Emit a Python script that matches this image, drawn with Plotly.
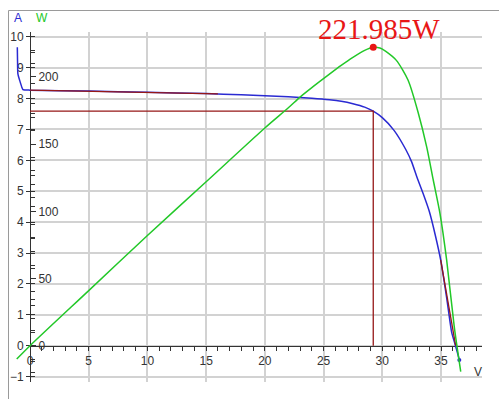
import plotly.graph_objects as go

# ---------------- data ----------------
iv_v = [-1.08, -1.06, -1.03, -0.68, -0.6, 0, 5, 10, 15, 18, 20, 22, 24, 25.5, 26.5,
        27.5, 28.5, 29.23, 30, 31, 32, 32.5, 33, 33.5, 34, 34.5, 35, 35.5, 35.9,
        36.2, 36.4, 36.56]
iv_a = [9.66, 9.2, 8.8, 8.35, 8.29, 8.27, 8.24, 8.2, 8.16, 8.12, 8.09, 8.06, 8.01,
        7.96, 7.91, 7.83, 7.72, 7.59, 7.38, 6.97, 6.35, 5.95, 5.4, 4.9, 4.35, 3.6,
        2.72, 1.5, 0.45, 0.04, -0.23, -0.46]

pv_v = [-1.13, 0, 5, 10, 15, 20, 22, 23, 24, 25.5, 26.5, 27.5, 28.5, 29.23, 29.8,
        30.3, 31.2, 32.2, 33.07, 33.78, 34.34, 34.91, 35.48, 36.13, 36.68]
pv_w = [-9.9, 0, 41, 82, 122, 162, 177, 185, 192, 202, 208.5, 214.5, 219.7, 221.985,
        221.5, 219, 212.3, 197.5, 173, 148, 123.3, 98.5, 63.8, 14, -19.3]

# tangent lines at Isc and Voc
isc_tan_v = [0, 16]
isc_tan_a = [8.27, 8.15]
voc_tan_v = [34.97, 36.25]
voc_tan_a = [2.78, 0.0]

mpp_v = 29.23
mpp_a = 7.59
mpp_w = 221.985
mpp_label = "221.985W"

x_ticks_major = 5
a_ticks_major = 1
w_ticks_major = 50

# ---------------- geometry / calibration ----------------
W, H = 499, 399
PX_X0 = 30.0      # pixel x of V = 0
PX_PER_V = 11.743
PY_Y0 = 345.7     # pixel y of A = 0 / W = 0
PX_PER_A = 30.9
PX_PER_W = 1.344


def vrange(p0, p1):
    return [(p0 - PX_X0) / PX_PER_V, (p1 - PX_X0) / PX_PER_V]


def arange_(pb, pt):
    return [(PY_Y0 - pb) / PX_PER_A, (PY_Y0 - pt) / PX_PER_A]


def wrange(pb, pt):
    return [(PY_Y0 - pb) / PX_PER_W, (PY_Y0 - pt) / PX_PER_W]


GL, GR, GT, GB = 30, 482, 32, 382   # grid region in pixels

FONT = "Liberation Sans, Arial, sans-serif"
AX = "#333333"
GRID = "#d2d2d2"
BLUE = "#2a2ad2"
GREEN = "#22c828"
MAROON = "#961818"
RED = "#e81616"

fig = go.Figure()

# dummy traces to create the display (grid/tick) subplot
for ya in ["y", "y4", "y5"]:
    fig.add_trace(go.Scatter(x=[None], y=[None], xaxis="x", yaxis=ya,
                             showlegend=False, hoverinfo="skip"))

# data traces
fig.add_trace(go.Scatter(x=iv_v, y=iv_a, xaxis="x2", yaxis="y2", mode="lines",
                         line=dict(color=BLUE, width=1.5, shape="spline",
                                   smoothing=0.5),
                         showlegend=False))
fig.add_trace(go.Scatter(x=[iv_v[-1]], y=[iv_a[-1]], xaxis="x2", yaxis="y2",
                         mode="markers", marker=dict(color=BLUE, size=4),
                         showlegend=False))
fig.add_trace(go.Scatter(x=isc_tan_v + [None] + voc_tan_v,
                         y=isc_tan_a + [None] + voc_tan_a,
                         xaxis="x2", yaxis="y2", mode="lines",
                         line=dict(color=MAROON, width=1.3), showlegend=False))
fig.add_trace(go.Scatter(x=[0, mpp_v, mpp_v], y=[mpp_a, mpp_a, 0],
                         xaxis="x2", yaxis="y2", mode="lines",
                         line=dict(color=MAROON, width=1.3), showlegend=False))
fig.add_trace(go.Scatter(x=pv_v, y=pv_w, xaxis="x2", yaxis="y3", mode="lines",
                         line=dict(color=GREEN, width=1.5, shape="spline",
                                   smoothing=0.7),
                         showlegend=False))
fig.add_trace(go.Scatter(x=[mpp_v], y=[mpp_w], xaxis="x2", yaxis="y3",
                         mode="markers", marker=dict(color=RED, size=7),
                         showlegend=False))

tickfont = dict(family=FONT, size=12, color=AX)

fig.update_layout(
    width=W, height=H,
    margin=dict(l=0, r=0, t=0, b=0),
    paper_bgcolor="white", plot_bgcolor="rgba(0,0,0,0)",
    showlegend=False,
    # display axes with grid
    xaxis=dict(domain=[GL / W, GR / W], range=vrange(GL, GR), anchor="free",
               position=1 - PY_Y0 / H, showgrid=True, gridcolor=GRID, gridwidth=1.5,
               dtick=x_ticks_major, tick0=0, ticks="outside", ticklen=4, tickwidth=1,
               tickcolor=AX, minor=dict(dtick=1, ticks="outside", ticklen=4,
                                        tickcolor=AX, showgrid=False),
               showline=True, linecolor=AX, linewidth=1, zeroline=False,
               tickfont=tickfont, automargin=False, fixedrange=True),
    yaxis=dict(domain=[1 - GB / H, 1 - GT / H], range=arange_(GB, GT), anchor="free",
               position=GL / W, side="left", showgrid=True, gridcolor=GRID,
               gridwidth=1.5, dtick=a_ticks_major, tick0=0, ticks="outside",
               ticklen=4, tickwidth=1, tickcolor=AX, showline=True, linecolor=AX,
               linewidth=1, zeroline=False, tickfont=tickfont, automargin=False,
               fixedrange=True),
    yaxis4=dict(overlaying="y", anchor="free", position=GL / W, side="right",
                range=wrange(GB, GT), dtick=w_ticks_major, tick0=0, ticks="outside",
                ticklen=5, tickwidth=1, tickcolor=AX,
                minor=dict(dtick=10, ticks="outside", ticklen=4, tickcolor=AX,
                           showgrid=False),
                showgrid=False, showline=False, zeroline=False, tickfont=tickfont,
                automargin=False, fixedrange=True),
    yaxis5=dict(overlaying="y", anchor="free", position=GL / W, side="right",
                range=arange_(GB, GT), dtick=0.5, tick0=0, ticks="outside",
                ticklen=4, tickwidth=1, tickcolor=AX, showticklabels=False,
                showgrid=False, showline=False, zeroline=False, automargin=False,
                fixedrange=True),
    # data axes (full figure, invisible)
    xaxis2=dict(domain=[0, 1], range=vrange(0, W), anchor="y2", visible=False,
                fixedrange=True),
    yaxis2=dict(domain=[0, 1], range=arange_(H, 0), anchor="x2", visible=False,
                fixedrange=True),
    yaxis3=dict(overlaying="y2", anchor="x2", range=wrange(H, 0), visible=False,
                fixedrange=True),
    shapes=[dict(type="rect", xref="paper", yref="paper", x0=8.5 / W, y0=-0.2,
                 x1=1.2, y1=1 - 10.5 / H, line=dict(color="#9a9a9a", width=1),
                 fillcolor="rgba(0,0,0,0)", layer="below")],
    annotations=[
        dict(text="A", xref="paper", yref="paper", x=18 / W, y=1 - 18.3 / H,
             xanchor="center", yanchor="middle", showarrow=False,
             font=dict(family=FONT, size=12, color=BLUE)),
        dict(text="W", xref="paper", yref="paper", x=42 / W, y=1 - 18.3 / H,
             xanchor="center", yanchor="middle", showarrow=False,
             font=dict(family=FONT, size=12, color=GREEN)),
        dict(text="V", xref="paper", yref="paper", x=477.5 / W, y=1 - 371.7 / H,
             xanchor="center", yanchor="middle", showarrow=False,
             font=dict(family=FONT, size=12, color=AX)),
        dict(text=mpp_label, xref="x2", yref="y3", x=mpp_v, y=mpp_w,
             xanchor="center", yanchor="bottom", xshift=6, yshift=0,
             showarrow=False,
             font=dict(family="Liberation Serif, Times New Roman, serif", size=29,
                       color=RED)),
    ],
)

fig.write_html("out.html", config={"displayModeBar": False})
